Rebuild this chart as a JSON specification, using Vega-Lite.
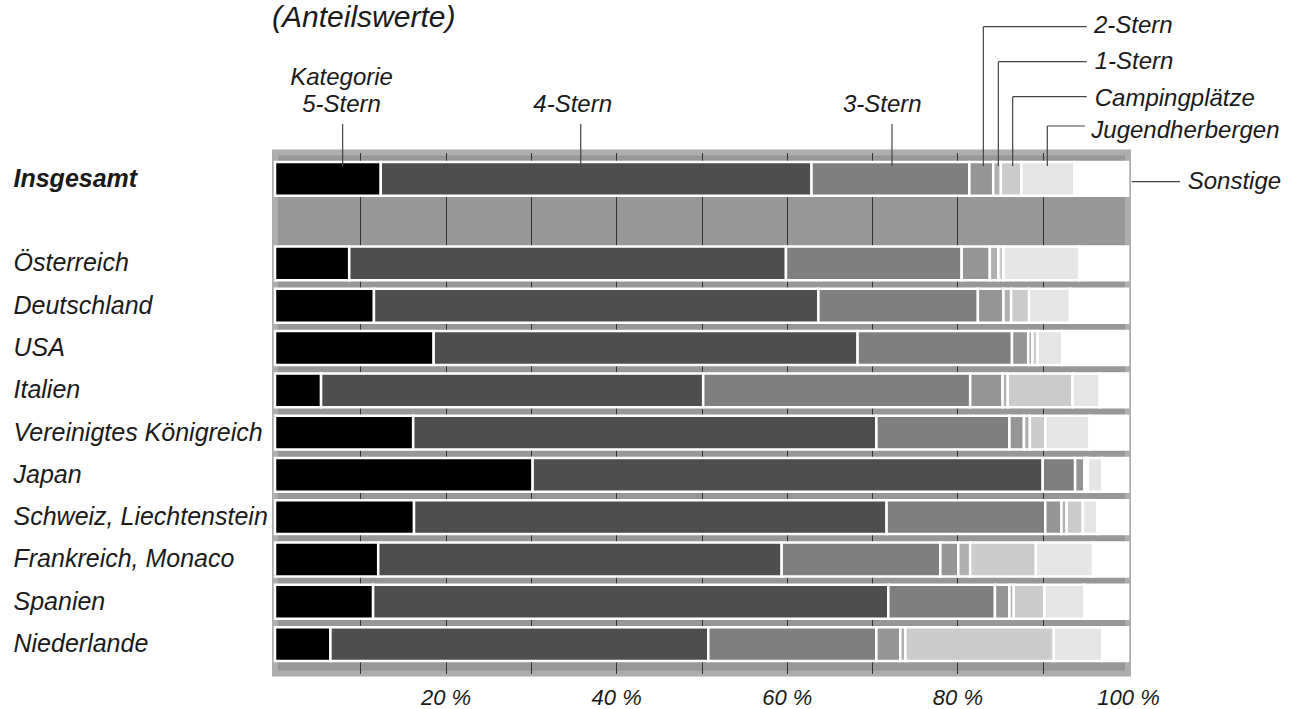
{
  "$schema": "https://vega.github.io/schema/vega-lite/v6.json",
  "width": 853,
  "height": 521,
  "autosize": {"type": "none"},
  "padding": {"left": 275, "top": 152.5, "right": 178, "bottom": 35.5},
  "background": "white",
  "config": {
    "view": {"fill": "#979797", "stroke": "#adadad", "strokeWidth": 6},
    "font": "Liberation Sans",
    "axisX": {
      "title": null,
      "grid": true,
      "gridColor": "#333333",
      "gridWidth": 1,
      "domain": false,
      "ticks": false,
      "labelFontSize": 22,
      "labelFontStyle": "italic",
      "labelColor": "#1a1a1a",
      "labelPadding": 14,
      "labelFlush": false,
      "labelOverlap": false
    }
  },
  "datasets": {
    "anteile": [
      {"land": "Insgesamt", "kategorie": "5-Stern", "anteil": 12.4},
      {"land": "Insgesamt", "kategorie": "4-Stern", "anteil": 50.5},
      {"land": "Insgesamt", "kategorie": "3-Stern", "anteil": 18.5},
      {"land": "Insgesamt", "kategorie": "2-Stern", "anteil": 2.8},
      {"land": "Insgesamt", "kategorie": "1-Stern", "anteil": 0.9},
      {"land": "Insgesamt", "kategorie": "Campingplätze", "anteil": 2.4},
      {"land": "Insgesamt", "kategorie": "Jugendherbergen", "anteil": 6.2},
      {"land": "Insgesamt", "kategorie": "Sonstige", "anteil": 6.3},
      {"land": "Österreich", "kategorie": "5-Stern", "anteil": 8.7},
      {"land": "Österreich", "kategorie": "4-Stern", "anteil": 51.2},
      {"land": "Österreich", "kategorie": "3-Stern", "anteil": 20.6},
      {"land": "Österreich", "kategorie": "2-Stern", "anteil": 3.3},
      {"land": "Österreich", "kategorie": "1-Stern", "anteil": 1.0},
      {"land": "Österreich", "kategorie": "Campingplätze", "anteil": 0.6},
      {"land": "Österreich", "kategorie": "Jugendherbergen", "anteil": 8.9},
      {"land": "Österreich", "kategorie": "Sonstige", "anteil": 5.7},
      {"land": "Deutschland", "kategorie": "5-Stern", "anteil": 11.6},
      {"land": "Deutschland", "kategorie": "4-Stern", "anteil": 52.1},
      {"land": "Deutschland", "kategorie": "3-Stern", "anteil": 18.7},
      {"land": "Deutschland", "kategorie": "2-Stern", "anteil": 3.0},
      {"land": "Deutschland", "kategorie": "1-Stern", "anteil": 0.9},
      {"land": "Deutschland", "kategorie": "Campingplätze", "anteil": 2.1},
      {"land": "Deutschland", "kategorie": "Jugendherbergen", "anteil": 4.8},
      {"land": "Deutschland", "kategorie": "Sonstige", "anteil": 6.8},
      {"land": "USA", "kategorie": "5-Stern", "anteil": 18.6},
      {"land": "USA", "kategorie": "4-Stern", "anteil": 49.7},
      {"land": "USA", "kategorie": "3-Stern", "anteil": 18.1},
      {"land": "USA", "kategorie": "2-Stern", "anteil": 1.9},
      {"land": "USA", "kategorie": "1-Stern", "anteil": 0.5},
      {"land": "USA", "kategorie": "Campingplätze", "anteil": 0.6},
      {"land": "USA", "kategorie": "Jugendherbergen", "anteil": 2.9},
      {"land": "USA", "kategorie": "Sonstige", "anteil": 7.7},
      {"land": "Italien", "kategorie": "5-Stern", "anteil": 5.4},
      {"land": "Italien", "kategorie": "4-Stern", "anteil": 44.8},
      {"land": "Italien", "kategorie": "3-Stern", "anteil": 31.3},
      {"land": "Italien", "kategorie": "2-Stern", "anteil": 3.8},
      {"land": "Italien", "kategorie": "1-Stern", "anteil": 0.6},
      {"land": "Italien", "kategorie": "Campingplätze", "anteil": 7.6},
      {"land": "Italien", "kategorie": "Jugendherbergen", "anteil": 3.2},
      {"land": "Italien", "kategorie": "Sonstige", "anteil": 3.3},
      {"land": "Vereinigtes Königreich", "kategorie": "5-Stern", "anteil": 16.2},
      {"land": "Vereinigtes Königreich", "kategorie": "4-Stern", "anteil": 54.3},
      {"land": "Vereinigtes Königreich", "kategorie": "3-Stern", "anteil": 15.6},
      {"land": "Vereinigtes Königreich", "kategorie": "2-Stern", "anteil": 1.7},
      {"land": "Vereinigtes Königreich", "kategorie": "1-Stern", "anteil": 0.7},
      {"land": "Vereinigtes Königreich", "kategorie": "Campingplätze", "anteil": 1.8},
      {"land": "Vereinigtes Königreich", "kategorie": "Jugendherbergen", "anteil": 5.2},
      {"land": "Vereinigtes Königreich", "kategorie": "Sonstige", "anteil": 4.5},
      {"land": "Japan", "kategorie": "5-Stern", "anteil": 30.2},
      {"land": "Japan", "kategorie": "4-Stern", "anteil": 59.8},
      {"land": "Japan", "kategorie": "3-Stern", "anteil": 3.8},
      {"land": "Japan", "kategorie": "2-Stern", "anteil": 1.1},
      {"land": "Japan", "kategorie": "1-Stern", "anteil": 0.2},
      {"land": "Japan", "kategorie": "Campingplätze", "anteil": 0.2},
      {"land": "Japan", "kategorie": "Jugendherbergen", "anteil": 1.7},
      {"land": "Japan", "kategorie": "Sonstige", "anteil": 3.0},
      {"land": "Schweiz, Liechtenstein", "kategorie": "5-Stern", "anteil": 16.3},
      {"land": "Schweiz, Liechtenstein", "kategorie": "4-Stern", "anteil": 55.4},
      {"land": "Schweiz, Liechtenstein", "kategorie": "3-Stern", "anteil": 18.6},
      {"land": "Schweiz, Liechtenstein", "kategorie": "2-Stern", "anteil": 1.9},
      {"land": "Schweiz, Liechtenstein", "kategorie": "1-Stern", "anteil": 0.6},
      {"land": "Schweiz, Liechtenstein", "kategorie": "Campingplätze", "anteil": 1.9},
      {"land": "Schweiz, Liechtenstein", "kategorie": "Jugendherbergen", "anteil": 1.7},
      {"land": "Schweiz, Liechtenstein", "kategorie": "Sonstige", "anteil": 3.6},
      {"land": "Frankreich, Monaco", "kategorie": "5-Stern", "anteil": 12.1},
      {"land": "Frankreich, Monaco", "kategorie": "4-Stern", "anteil": 47.3},
      {"land": "Frankreich, Monaco", "kategorie": "3-Stern", "anteil": 18.6},
      {"land": "Frankreich, Monaco", "kategorie": "2-Stern", "anteil": 2.1},
      {"land": "Frankreich, Monaco", "kategorie": "1-Stern", "anteil": 1.4},
      {"land": "Frankreich, Monaco", "kategorie": "Campingplätze", "anteil": 7.7},
      {"land": "Frankreich, Monaco", "kategorie": "Jugendherbergen", "anteil": 6.7},
      {"land": "Frankreich, Monaco", "kategorie": "Sonstige", "anteil": 4.1},
      {"land": "Spanien", "kategorie": "5-Stern", "anteil": 11.5},
      {"land": "Spanien", "kategorie": "4-Stern", "anteil": 60.4},
      {"land": "Spanien", "kategorie": "3-Stern", "anteil": 12.5},
      {"land": "Spanien", "kategorie": "2-Stern", "anteil": 1.7},
      {"land": "Spanien", "kategorie": "1-Stern", "anteil": 0.5},
      {"land": "Spanien", "kategorie": "Campingplätze", "anteil": 3.6},
      {"land": "Spanien", "kategorie": "Jugendherbergen", "anteil": 4.7},
      {"land": "Spanien", "kategorie": "Sonstige", "anteil": 5.1},
      {"land": "Niederlande", "kategorie": "5-Stern", "anteil": 6.5},
      {"land": "Niederlande", "kategorie": "4-Stern", "anteil": 44.3},
      {"land": "Niederlande", "kategorie": "3-Stern", "anteil": 19.7},
      {"land": "Niederlande", "kategorie": "2-Stern", "anteil": 2.8},
      {"land": "Niederlande", "kategorie": "1-Stern", "anteil": 0.6},
      {"land": "Niederlande", "kategorie": "Campingplätze", "anteil": 17.4},
      {"land": "Niederlande", "kategorie": "Jugendherbergen", "anteil": 5.7},
      {"land": "Niederlande", "kategorie": "Sonstige", "anteil": 3.0}
    ],
    "leader": [
      {"x1": 7.93, "x2": 7.93, "r1": -1.30, "r2": -0.31},
      {"x1": 35.84, "x2": 35.84, "r1": -1.30, "r2": -0.31},
      {"x1": 72.33, "x2": 72.33, "r1": -1.30, "r2": -0.31},
      {"x1": 83.04, "x2": 95.16, "r1": -3.603, "r2": -3.603},
      {"x1": 83.04, "x2": 83.04, "r1": -3.603, "r2": -0.31},
      {"x1": 84.8, "x2": 95.16, "r1": -2.775, "r2": -2.775},
      {"x1": 84.8, "x2": 84.8, "r1": -2.775, "r2": -0.31},
      {"x1": 86.48, "x2": 95.16, "r1": -1.947, "r2": -1.947},
      {"x1": 86.48, "x2": 86.48, "r1": -1.947, "r2": -0.31},
      {"x1": 90.54, "x2": 94.96, "r1": -1.254, "r2": -1.254},
      {"x1": 90.54, "x2": 90.54, "r1": -1.254, "r2": -0.31},
      {"x1": 100.43, "x2": 106.1, "r1": 0.064, "r2": 0.064}
    ],
    "labelsCenter": [
      {"text": "Kategorie", "x": 7.8, "r": -2.38},
      {"text": "5-Stern", "x": 7.8, "r": -1.753},
      {"text": "4-Stern", "x": 34.9, "r": -1.753},
      {"text": "3-Stern", "x": 71.2, "r": -1.753}
    ],
    "labelsLeft": [
      {"text": "2-Stern", "x": 96.0, "r": -3.622},
      {"text": "1-Stern", "x": 96.1, "r": -2.77},
      {"text": "Campingplätze", "x": 96.1, "r": -1.895},
      {"text": "Jugendherbergen", "x": 95.7, "r": -1.126},
      {"text": "Sonstige", "x": 107.0, "r": 0.08}
    ],
    "titel": [
      {"text": "(Anteilswerte)", "x": -0.35, "r": -3.8}
    ]
  },
  "layer": [
    {
      "data": {"name": "anteile"},
      "transform": [
        {"calculate": "indexof(['5-Stern', '4-Stern', '3-Stern', '2-Stern', '1-Stern', 'Campingplätze', 'Jugendherbergen', 'Sonstige'], datum.kategorie)", "as": "rang"}
      ],
      "mark": {"type": "bar", "stroke": "white", "strokeWidth": 2.5},
      "encoding": {
        "y": {
          "field": "land",
          "type": "nominal",
          "scale": {
            "domain": ["Insgesamt", " ", "Österreich", "Deutschland", "USA", "Italien", "Vereinigtes Königreich", "Japan", "Schweiz, Liechtenstein", "Frankreich, Monaco", "Spanien", "Niederlande"],
            "paddingInner": 0.2,
            "paddingOuter": 0.26,
            "align": 0.43
          },
          "axis": {
            "title": null,
            "domain": false,
            "ticks": false,
            "grid": false,
            "labelAlign": "left",
            "labelPadding": 262,
            "labelFontSize": 25,
            "labelFontStyle": "italic",
            "labelFontWeight": {"condition": {"test": "datum.value === 'Insgesamt'", "value": "bold"}, "value": "normal"},
            "labelColor": "#1a1a1a",
            "labelLimit": 400
          }
        },
        "x": {
          "field": "anteil",
          "type": "quantitative",
          "stack": "zero",
          "title": null,
          "scale": {"domain": [0, 100], "nice": false},
          "axis": {
            "values": [10, 20, 30, 40, 50, 60, 70, 80, 90, 100],
            "labelExpr": "datum.value % 20 === 0 ? datum.value + ' %' : ''",
            "gridOpacity": {"condition": {"test": "datum.value === 100", "value": 0}, "value": 1}
          }
        },
        "order": {"field": "rang", "type": "quantitative", "sort": "ascending"},
        "color": {
          "field": "kategorie",
          "type": "nominal",
          "scale": {
            "domain": ["5-Stern", "4-Stern", "3-Stern", "2-Stern", "1-Stern", "Campingplätze", "Jugendherbergen", "Sonstige"],
            "range": ["#000000", "#4e4e4e", "#7f7f7f", "#959595", "#b0b0b0", "#cbcbcb", "#e5e5e5", "#ffffff"]
          },
          "legend": null
        }
      }
    },
    {
      "data": {"name": "leader"},
      "mark": {"type": "rule", "color": "#444444", "strokeWidth": 1.2},
      "encoding": {
        "x": {"field": "x1", "type": "quantitative", "title": null, "scale": {"domain": [0, 100], "nice": false}},
        "x2": {"field": "x2"},
        "y": {"field": "r1", "type": "quantitative", "scale": {"domain": [-0.627, 11.699], "reverse": true, "nice": false, "zero": false}, "axis": null},
        "y2": {"field": "r2"}
      }
    },
    {
      "data": {"name": "labelsCenter"},
      "mark": {"type": "text", "align": "center", "baseline": "middle", "fontSize": 24, "fontStyle": "italic", "color": "#1a1a1a"},
      "encoding": {
        "x": {"field": "x", "type": "quantitative", "title": null, "scale": {"domain": [0, 100], "nice": false}},
        "y": {"field": "r", "type": "quantitative", "scale": {"domain": [-0.627, 11.699], "reverse": true, "nice": false, "zero": false}, "axis": null},
        "text": {"field": "text"}
      }
    },
    {
      "data": {"name": "labelsLeft"},
      "mark": {"type": "text", "align": "left", "baseline": "middle", "fontSize": 24, "fontStyle": "italic", "color": "#1a1a1a"},
      "encoding": {
        "x": {"field": "x", "type": "quantitative", "title": null, "scale": {"domain": [0, 100], "nice": false}},
        "y": {"field": "r", "type": "quantitative", "scale": {"domain": [-0.627, 11.699], "reverse": true, "nice": false, "zero": false}, "axis": null},
        "text": {"field": "text"}
      }
    },
    {
      "data": {"name": "titel"},
      "mark": {"type": "text", "align": "left", "baseline": "middle", "fontSize": 30, "fontStyle": "italic", "color": "#1a1a1a"},
      "encoding": {
        "x": {"field": "x", "type": "quantitative", "title": null, "scale": {"domain": [0, 100], "nice": false}},
        "y": {"field": "r", "type": "quantitative", "scale": {"domain": [-0.627, 11.699], "reverse": true, "nice": false, "zero": false}, "axis": null},
        "text": {"field": "text"}
      }
    }
  ],
  "resolve": {"scale": {"y": "independent"}}
}
